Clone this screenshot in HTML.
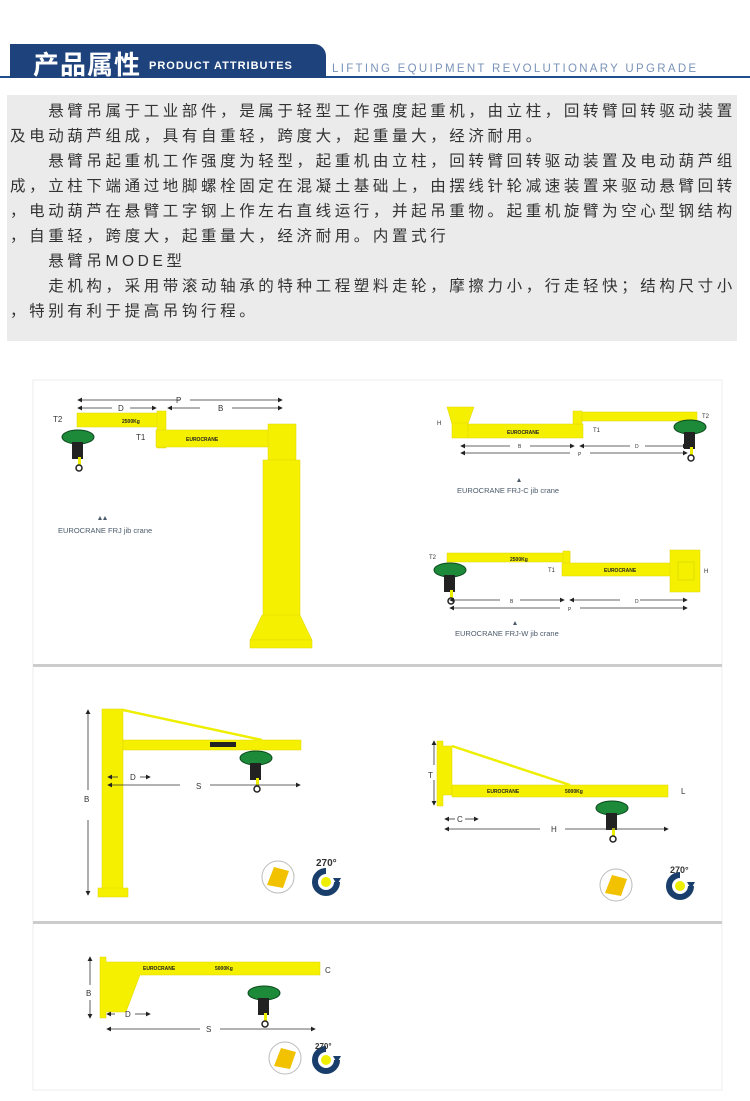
<!DOCTYPE html>
<html><head><meta charset="utf-8"><style>
body{margin:0;width:750px;height:1101px;background:#fff;position:relative;overflow:hidden;font-family:"Liberation Sans","Noto Sans CJK SC",sans-serif}
.abs{position:absolute}
.txt{left:7px;top:95px;width:730px;height:246px;background:#ebebeb}
.txt p{margin:0;position:absolute;left:3px;font-size:15.5px;letter-spacing:3.6px;color:#333;white-space:nowrap;line-height:20px}
</style></head><body>
<div class="abs" style="left:0;top:76px;width:750px;height:2px;background:#1f4e8c"></div>
<div class="abs" style="left:10px;top:44px;width:316px;height:34px;background:#1d427c;border-top-right-radius:12px"></div>
<div class="abs" style="left:33px;top:45px;color:#fff;font-size:26px;font-weight:bold;font-family:'Noto Sans CJK SC',sans-serif;letter-spacing:1px">产品属性</div>
<div class="abs" style="left:149px;top:60px;color:#fff;font-size:11px;font-weight:bold;letter-spacing:1px">PRODUCT ATTRIBUTES</div>
<div class="abs" style="left:332px;top:63px;color:#7a93b8;font-size:11.5px;letter-spacing:2.3px">LIFTING EQUIPMENT REVOLUTIONARY UPGRADE</div>
<div class="abs txt">
<p style="top:7px">　　悬臂吊属于工业部件，是属于轻型工作强度起重机，由立柱，回转臂回转驱动装置</p>
<p style="top:32px">及电动葫芦组成，具有自重轻，跨度大，起重量大，经济耐用。</p>
<p style="top:57px">　　悬臂吊起重机工作强度为轻型，起重机由立柱，回转臂回转驱动装置及电动葫芦组</p>
<p style="top:82px">成，立柱下端通过地脚螺栓固定在混凝土基础上，由摆线针轮减速装置来驱动悬臂回转</p>
<p style="top:107px">，电动葫芦在悬臂工字钢上作左右直线运行，并起吊重物。起重机旋臂为空心型钢结构</p>
<p style="top:132px">，自重轻，跨度大，起重量大，经济耐用。内置式行</p>
<p style="top:157px">　　悬臂吊MODE型</p>
<p style="top:182px">　　走机构，采用带滚动轴承的特种工程塑料走轮，摩擦力小，行走轻快；结构尺寸小</p>
<p style="top:207px">，特别有利于提高吊钩行程。</p>
</div>
<svg class="abs" style="left:0;top:0" width="750" height="1101" viewBox="0 0 750 1101" font-family="Liberation Sans, sans-serif">
<defs>
<marker id="a" markerWidth="6" markerHeight="6" refX="5" refY="3" orient="auto"><path d="M0,0L6,3L0,6z" fill="#222"/></marker>
<g id="hoist"><ellipse cx="0" cy="0" rx="16" ry="7" fill="#1d8a3a" stroke="#0c4a1d"/><rect x="-6" y="5" width="11" height="17" fill="#222"/><rect x="0" y="20" width="3" height="8" fill="#ee0"/><circle cx="1" cy="31" r="3" fill="none" stroke="#222" stroke-width="1.5"/></g>
<g id="beam"><circle r="16" fill="#fff" stroke="#bbb"/><path d="M-11,8L-4,-10L11,-6L5,11z" fill="#f2c200"/></g>
<g id="rot"><path d="M0,-11A11,11 0 1 0 11,0" fill="none" stroke="#1a3e6b" stroke-width="6"/><circle r="5" fill="#ee0"/><path d="M7,-4L15,-4L11,3z" fill="#1a3e6b"/></g>
</defs>
<g stroke="#eee" fill="none"><rect x="33" y="380" width="689" height="710"/></g>
<rect x="33" y="664" width="689" height="3" fill="#ccc"/>
<rect x="33" y="921" width="689" height="3" fill="#ccc"/>
<g fill="#f5f000" stroke="#e0d400" stroke-width=".5">
<rect x="77" y="413" width="82" height="14"/><rect x="157" y="411" width="9" height="37"/>
<rect x="156" y="430" width="114" height="17"/><rect x="268" y="424" width="28" height="36"/>
<rect x="263" y="460" width="37" height="180"/><path d="M262,615L300,615L312,640L250,640z"/><rect x="250" y="640" width="62" height="8"/>
<path d="M447,407L474,407L468,424L452,424z"/><rect x="452" y="423" width="16" height="15"/>
<rect x="468" y="424" width="115" height="14"/><rect x="573" y="411" width="9" height="13"/><rect x="582" y="412" width="115" height="9"/>
<rect x="447" y="553" width="123" height="9"/><rect x="563" y="551" width="7" height="15"/>
<rect x="562" y="563" width="116" height="13"/><rect x="670" y="550" width="30" height="42"/><rect x="678" y="562" width="16" height="18" stroke="#cc0"/>
<rect x="102" y="709" width="21" height="186"/><rect x="123" y="740" width="178" height="10"/><rect x="98" y="888" width="30" height="9"/>
<path d="M437,741L443,741L443,746L452,746L452,795L443,795L443,806L437,806z"/><rect x="452" y="785" width="216" height="12"/>
<path d="M100,957L106,957L106,962L320,962L320,975L140,975L126,1012L106,1012L106,1018L100,1018z"/>
</g>
<g stroke="#ee0" stroke-width="2.5"><line x1="123" y1="710" x2="262" y2="740"/><line x1="452" y1="746" x2="570" y2="785"/></g>
<g fill="#222" font-size="5" font-weight="bold">
<text x="122" y="423">2500Kg</text><text x="186" y="441">EUROCRANE</text><text x="507" y="434">EUROCRANE</text><text x="510" y="561">2500Kg</text><text x="604" y="572">EUROCRANE</text>
<rect x="210" y="742" width="26" height="5"/><text x="487" y="793">EUROCRANE</text><text x="565" y="793">5000Kg</text>
<text x="143" y="970">EUROCRANE</text><text x="215" y="970">5000Kg</text>
</g>
<use href="#hoist" x="78" y="437"/><use href="#hoist" x="690" y="427"/><use href="#hoist" x="450" y="570"/>
<use href="#hoist" x="256" y="758"/><use href="#hoist" x="612" y="808"/><use href="#hoist" x="264" y="993"/>
<g stroke="#333" stroke-width=".8" fill="none" marker-end="url(#a)">
<line x1="180" y1="400" x2="78" y2="400"/><line x1="190" y1="400" x2="282" y2="400"/>
<line x1="112" y1="408" x2="78" y2="408"/><line x1="130" y1="408" x2="156" y2="408"/><line x1="200" y1="408" x2="168" y2="408"/><line x1="232" y1="408" x2="282" y2="408"/>
<line x1="510" y1="446" x2="461" y2="446"/><line x1="530" y1="446" x2="574" y2="446"/><line x1="630" y1="446" x2="580" y2="446"/><line x1="645" y1="446" x2="687" y2="446"/>
<line x1="570" y1="453" x2="461" y2="453"/><line x1="590" y1="453" x2="687" y2="453"/>
<line x1="500" y1="600" x2="450" y2="600"/><line x1="520" y1="600" x2="564" y2="600"/><line x1="620" y1="600" x2="570" y2="600"/><line x1="640" y1="600" x2="687" y2="600"/>
<line x1="560" y1="608" x2="450" y2="608"/><line x1="580" y1="608" x2="687" y2="608"/>
<line x1="88" y1="790" x2="88" y2="710"/><line x1="88" y1="820" x2="88" y2="895"/>
<line x1="118" y1="777" x2="108" y2="777"/><line x1="140" y1="777" x2="150" y2="777"/>
<line x1="180" y1="785" x2="108" y2="785"/><line x1="210" y1="785" x2="300" y2="785"/>
<line x1="434" y1="765" x2="434" y2="741"/><line x1="434" y1="780" x2="434" y2="805"/>
<line x1="455" y1="819" x2="445" y2="819"/><line x1="465" y1="819" x2="478" y2="819"/>
<line x1="540" y1="829" x2="445" y2="829"/><line x1="565" y1="829" x2="668" y2="829"/>
<line x1="90" y1="985" x2="90" y2="957"/><line x1="90" y1="1000" x2="90" y2="1018"/>
<line x1="115" y1="1014" x2="107" y2="1014"/><line x1="135" y1="1014" x2="150" y2="1014"/>
<line x1="200" y1="1029" x2="107" y2="1029"/><line x1="220" y1="1029" x2="315" y2="1029"/>
</g>
<g fill="#333" font-size="8">
<text x="176" y="403">P</text><text x="118" y="411">D</text><text x="218" y="411">B</text>
<text x="53" y="422">T2</text><text x="136" y="440">T1</text>
<text x="437" y="425" font-size="6">H</text><text x="593" y="432" font-size="6">T1</text><text x="702" y="418" font-size="6">T2</text>
<text x="518" y="448" font-size="5">B</text><text x="635" y="448" font-size="5">D</text><text x="578" y="456" font-size="5">P</text>
<text x="429" y="559" font-size="6">T2</text><text x="548" y="572" font-size="6">T1</text><text x="704" y="573" font-size="6">H</text>
<text x="510" y="603" font-size="5">B</text><text x="635" y="603" font-size="5">D</text><text x="568" y="611" font-size="5">P</text>
<text x="84" y="802">B</text><text x="130" y="780">D</text><text x="196" y="789">S</text>
<text x="428" y="778">T</text><text x="457" y="822">C</text><text x="551" y="832">H</text><text x="681" y="794">L</text>
<text x="86" y="996">B</text><text x="125" y="1017">D</text><text x="206" y="1032">S</text><text x="325" y="973">C</text>
</g>
<g fill="#4a5a6a" font-size="7.5"><text x="58" y="533">EUROCRANE FRJ jib crane</text><text x="457" y="493">EUROCRANE FRJ-C jib crane</text><text x="455" y="636">EUROCRANE FRJ-W jib crane</text>
<path d="M98,520l2,-4 2,4z M103,520l2,-4 2,4z" /><path d="M517,482l2,-4 2,4z"/><path d="M513,625l2,-4 2,4z"/></g>
<use href="#beam" x="278" y="877"/><use href="#rot" x="326" y="882"/><text x="316" y="866" font-size="10" font-weight="bold" fill="#333">270°</text>
<use href="#beam" x="616" y="885"/><use href="#rot" x="680" y="886"/><text x="670" y="873" font-size="9" font-weight="bold" fill="#333">270°</text>
<use href="#beam" x="285" y="1058"/><use href="#rot" x="326" y="1060"/><text x="315" y="1049" font-size="8" font-weight="bold" fill="#333">270°</text>
</svg>
</body></html>
